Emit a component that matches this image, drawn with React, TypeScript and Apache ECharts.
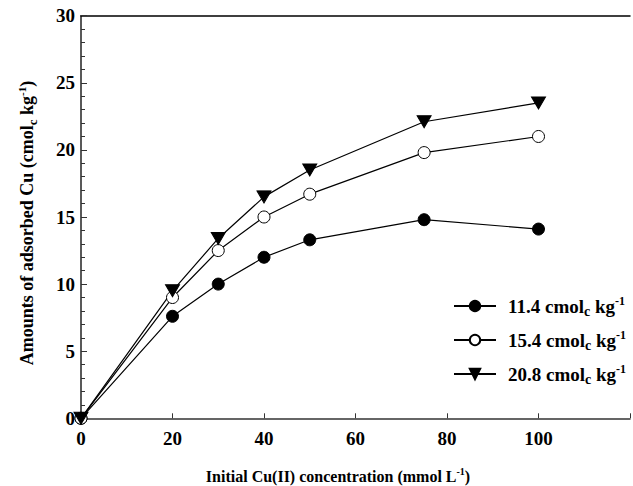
import React, { useEffect, useRef } from "react";
import * as echarts from "echarts";

const xValues = [0, 20, 30, 40, 50, 75, 100];
const cec114 = [0, 7.6, 10.0, 12.0, 13.3, 14.8, 14.1];
const cec154 = [0, 9.0, 12.5, 15.0, 16.7, 19.8, 21.0];
const cec208 = [0, 9.5, 13.4, 16.5, 18.5, 22.1, 23.5];
const seriesNames = ["11.4", "15.4", "20.8"];
const xTicks = [0, 20, 40, 60, 80, 100];
const yTicks = [0, 5, 10, 15, 20, 25, 30];

const FONT = "'Liberation Serif', 'Times New Roman', serif";
const INV_TRI = "path://M0,0 L12,0 L6,10 Z";

const mkRich = (size: number) => ({
  a: { fontFamily: FONT, fontWeight: "bold", fontSize: size, color: "#000" },
  sub: {
    fontFamily: FONT,
    fontWeight: "bold",
    fontSize: Math.round(size * 0.72),
    color: "#000",
    padding: [Math.round(size * 0.55), 0, 0, 0],
  },
  sup: {
    fontFamily: FONT,
    fontWeight: "bold",
    fontSize: Math.round(size * 0.62),
    color: "#000",
    padding: [0, 0, Math.round(size * 0.55), 0],
  },
});

export default function App() {
  const ref = useRef<HTMLDivElement>(null);
  useEffect(() => {
    if (!ref.current) return;
    const chart = echarts.init(ref.current, null, { renderer: "svg" });
    const legendRich = mkRich(19);
    const mk = (name: string, data: number[], symbol: string, fill: string, size: number | number[]) => ({
      name,
      type: "line",
      data: xValues.map((x, i) => [x, data[i]]),
      symbol,
      symbolSize: size,
      showSymbol: true,
      clip: false,
      lineStyle: { color: "#000", width: 1.2 },
      itemStyle: { color: fill, borderColor: "#000", borderWidth: 1 },
      z: 3,
    });
    const legendRowTops = [290, 324, 358];
    const legends = seriesNames.map((n, i) => ({
      orient: "vertical",
      left: 448,
      top: legendRowTops[i],
      itemWidth: 42,
      itemHeight: 13,
      data: [n],
      formatter: (s: string) => `{a|${s} cmol}{sub|c}{a| kg}{sup|-1}`,
      textStyle: {
        rich: legendRich,
        fontFamily: FONT,
        fontWeight: "bold",
        fontSize: 19,
        color: "#000",
        padding: [0, 0, 0, 7],
      },
    }));
    chart.setOption({
      animation: false,
      backgroundColor: "#fff",
      grid: { left: 81, top: 15.7, right: -3, bottom: 67.7, show: false },
      legend: legends,
      graphic: [
        {
          type: "text",
          x: 338,
          y: 476,
          style: {
            text: "{a|Initial Cu(II) concentration (mmol L}{sup|-1}{a|)}",
            rich: mkRich(16),
            align: "center",
            verticalAlign: "middle",
          },
        },
        {
          type: "text",
          x: 27,
          y: 223,
          rotation: Math.PI / 2,
          style: {
            text: "{a|Amounts of adsorbed Cu (cmol}{sub|c}{a| kg}{sup|-1}{a|)}",
            rich: mkRich(18),
            align: "center",
            verticalAlign: "middle",
          },
        },
      ],
      xAxis: [
        {
          type: "value",
          min: 0,
          max: 120,
          interval: 20,
          axisLine: { show: true, lineStyle: { color: "#333", width: 1.5 } },
          axisTick: { show: true, inside: true, length: 5, lineStyle: { color: "#333" } },
          axisLabel: {
            margin: 11,
            fontFamily: FONT,
            fontWeight: "bold",
            fontSize: 19,
            color: "#000",
            formatter: (v: number) => (xTicks.includes(v) ? String(v) : ""),
          },
          splitLine: { show: false },
        },
        {
          type: "value",
          position: "top",
          min: 0,
          max: 120,
          axisLine: { show: true, onZero: false, lineStyle: { color: "#000", width: 1.5 } },
          axisTick: { show: false },
          axisLabel: { show: false },
          splitLine: { show: false },
        },
      ],
      yAxis: {
        type: "value",
        min: 0,
        max: 30,
        interval: 5,
        axisLine: { show: true, lineStyle: { color: "#222", width: 1.5 } },
        axisTick: { show: true, inside: true, length: 6, lineStyle: { color: "#333" } },
        minorTick: { show: true, splitNumber: 5, length: 4, lineStyle: { color: "#333" } },
        axisLabel: {
          margin: 6,
          fontFamily: FONT,
          fontWeight: "bold",
          fontSize: 19,
          color: "#000",
          formatter: (v: number) => (yTicks.includes(v) ? String(v) : ""),
        },
        splitLine: { show: false },
        minorSplitLine: { show: false },
      },
      series: [
        mk(seriesNames[0], cec114, "circle", "#000", 12),
        mk(seriesNames[1], cec154, "circle", "#fff", 12),
        mk(seriesNames[2], cec208, INV_TRI, "#000", [14, 12]),
      ],
    });
    return () => chart.dispose();
  }, []);
  return (
    <div
      ref={ref}
      style={{ position: "fixed", left: 0, top: 0, width: 633, height: 486, background: "#fff" }}
    />
  );
}
